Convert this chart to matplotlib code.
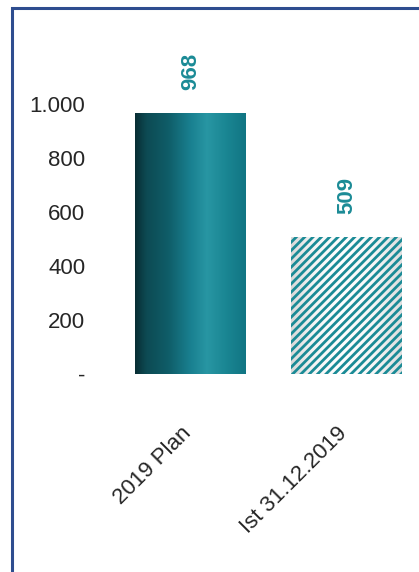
import matplotlib
matplotlib.use("Agg")
import matplotlib.pyplot as plt
import matplotlib.transforms as mtransforms
import numpy as np
from matplotlib.colors import LinearSegmentedColormap
from matplotlib.patches import Rectangle
from matplotlib.ticker import FuncFormatter

categories = ["2019 Plan", "Ist 31.12.2019"]
values = [968, 509]
y_ticks = [0, 200, 400, 600, 800, 1000]

teal = "#1b8b96"
plt.rcParams["font.family"] = ["Liberation Sans", "DejaVu Sans"]
plt.rcParams["hatch.linewidth"] = 2.0

W, H = 419, 572
fig = plt.figure(figsize=(W / 100, H / 100), dpi=100)
ax = fig.add_axes([95 / W, 198 / H, 324 / W, 297 / H])

x = np.arange(len(categories))
bars = ax.bar(x, values, width=0.71, color="none", edgecolor="none", linewidth=0)

# plan bar: metallic teal gradient clipped to the bar
plan = bars[0]
plan_cmap = LinearSegmentedColormap.from_list("plan", [
    (0.0, "#082d33"), (0.1, "#0d4a53"), (0.3, "#0f5d68"),
    (0.5, "#198090"), (0.65, "#2896a3"), (0.82, "#1a8693"), (1.0, "#117583")])
grad = np.linspace(0, 1, 256).reshape(1, -1)
im = ax.imshow(grad, cmap=plan_cmap, aspect="auto", interpolation="bicubic",
               extent=(plan.get_x(), plan.get_x() + plan.get_width(), 0, plan.get_height()),
               zorder=1)
im.set_clip_path(plan)

# actual bar: shaded white cylinder with teal diagonal stripes
ist = bars[1]
ist_cmap = LinearSegmentedColormap.from_list("ist", [
    (0.0, "#d9d9d9"), (0.2, "#f5f5f5"), (0.45, "#ffffff"), (0.75, "#f7f7f7"), (1.0, "#dedede")])
im2 = ax.imshow(grad, cmap=ist_cmap, aspect="auto", interpolation="bicubic",
                extent=(ist.get_x(), ist.get_x() + ist.get_width(), 0, ist.get_height()),
                zorder=1)
im2.set_clip_path(ist)
ax.bar(x[1], values[1], width=0.71, facecolor="none", edgecolor=teal,
       linewidth=0, hatch="////", zorder=2)

ax.bar_label(bars, labels=[str(v) for v in values], rotation=90, padding=16,
             color=teal, fontsize=16, fontweight="bold")

ax.set_xlim(-0.612, 1.465)
ax.set_ylim(0, 1100)
ax.set_yticks(y_ticks)
ax.yaxis.set_major_formatter(FuncFormatter(
    lambda v, p: "-" if v == 0 else f"{v:,.0f}".replace(",", ".")))
ax.set_xticks([])
ax.tick_params(axis="y", length=0, pad=7, labelsize=16, labelcolor="#262626")
for s in ax.spines.values():
    s.set_visible(False)

# slanted category labels below the bars
shift = mtransforms.ScaledTranslation(5 / 100, -49 / 100, fig.dpi_scale_trans)
for xi, name in zip(x, categories):
    ax.text(xi, 0, name, rotation=45, ha="right", va="top", fontsize=16,
            color="#262626", transform=ax.get_xaxis_transform() + shift)

# blue frame around the chart area
fig.add_artist(Rectangle((12 / W, -0.1), 2, (H - 8) / H + 0.1, transform=fig.transFigure,
                         fill=False, edgecolor="#2e4d8f", linewidth=2.2))

fig.savefig("out.png", dpi=100)
